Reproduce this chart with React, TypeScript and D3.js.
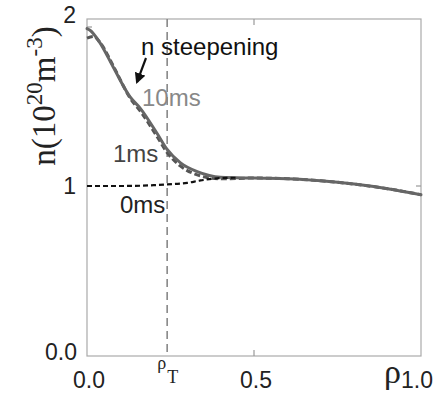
import React, { useEffect, useRef } from 'react';
import * as d3 from 'd3';

// radial position rho (0..1)
const rho10 = [0, 0.009, 0.039, 0.078, 0.129, 0.159, 0.21, 0.24, 0.28, 0.33, 0.4, 0.5, 0.6, 0.7, 0.8, 0.9, 1.0];
const n10ms = [1.99, 1.98, 1.9, 1.75, 1.56, 1.49, 1.33, 1.23, 1.145, 1.09, 1.055, 1.05, 1.046, 1.033, 1.012, 0.983, 0.945];

const rho1 = [0, 0.02, 0.04, 0.08, 0.13, 0.16, 0.21, 0.24, 0.28, 0.33, 0.4, 0.5, 0.6, 0.7, 0.8, 0.9, 1.0];
const n1ms = [1.93, 1.94, 1.9, 1.75, 1.55, 1.47, 1.31, 1.21, 1.125, 1.07, 1.045, 1.05, 1.046, 1.033, 1.012, 0.983, 0.945];

const rho0 = [0, 0.1, 0.2, 0.24, 0.3, 0.34, 0.4, 0.45];
const n0ms = [1.0, 1.0, 1.005, 1.01, 1.02, 1.035, 1.05, 1.052];

const rhoT = 0.24;
const yTicks = [1, 2];
const xTicks = [0.0, 0.5];

function App() {
  const ref = useRef<SVGSVGElement>(null);

  useEffect(() => {
    const svg = d3.select(ref.current);
    svg.selectAll('*').remove();

    const x = d3.scaleLinear().domain([0, 1]).range([87, 421]);
    const y = d3.scaleLinear().domain([1, 2]).range([186, 27]);
    const yMin = y.invert(356);
    const yMax = y.invert(19);

    const axisColor = '#aaa';
    const sans = '"Liberation Sans", Arial, sans-serif';
    const serif = '"Liberation Serif", "Times New Roman", serif';

    // frame
    svg.append('rect')
      .attr('x', x(0)).attr('y', y(yMax))
      .attr('width', x(1) - x(0)).attr('height', y(yMin) - y(yMax))
      .attr('fill', 'none').attr('stroke', axisColor).attr('stroke-width', 1.2);

    // inward ticks
    yTicks.forEach(v => {
      svg.append('line').attr('x1', x(0)).attr('x2', x(0) + 5).attr('y1', y(v)).attr('y2', y(v))
        .attr('stroke', '#999').attr('stroke-width', 1.2);
    });
    svg.append('line').attr('x1', x(1)).attr('x2', x(1) - 5).attr('y1', y(1)).attr('y2', y(1))
      .attr('stroke', '#999').attr('stroke-width', 1.2);
    svg.append('line').attr('x1', x(0.5)).attr('x2', x(0.5)).attr('y1', y(yMin)).attr('y2', y(yMin) - 6)
      .attr('stroke', '#999').attr('stroke-width', 1.2);
    svg.append('line').attr('x1', x(0.5)).attr('x2', x(0.5)).attr('y1', y(yMax)).attr('y2', y(yMax) + 6)
      .attr('stroke', '#999').attr('stroke-width', 1.2);

    // rho_T marker
    svg.append('line')
      .attr('x1', x(rhoT)).attr('x2', x(rhoT))
      .attr('y1', y(yMax)).attr('y2', y(yMin))
      .attr('stroke', '#888').attr('stroke-width', 1.6)
      .attr('stroke-dasharray', '8,5');

    const line = d3.line<[number, number]>()
      .x(d => x(d[0]))
      .y(d => y(d[1]))
      .curve(d3.curveMonotoneX);

    const toPts = (xs: number[], ys: number[]) => xs.map((v, i) => [v, ys[i]] as [number, number]);

    // 1ms dashed
    svg.append('path')
      .datum(toPts(rho1, n1ms))
      .attr('fill', 'none')
      .attr('stroke', '#555')
      .attr('stroke-width', 3)
      .attr('stroke-dasharray', '6,3')
      .attr('d', line);

    // 10ms solid
    svg.append('path')
      .datum(toPts(rho10, n10ms))
      .attr('fill', 'none')
      .attr('stroke', '#666')
      .attr('stroke-width', 3)
      .attr('stroke-linecap', 'round')
      .attr('d', line);

    // 0ms dashed black
    svg.append('path')
      .datum(toPts(rho0, n0ms))
      .attr('fill', 'none')
      .attr('stroke', '#111')
      .attr('stroke-width', 2.2)
      .attr('stroke-dasharray', '5,3')
      .attr('d', line);

    // tick labels
    svg.append('text').attr('x', 76).attr('y', 23).attr('text-anchor', 'end')
      .attr('font-family', sans).attr('font-size', 23).attr('fill', '#222').text('2');
    svg.append('text').attr('x', 76).attr('y', y(1) + 8).attr('text-anchor', 'end')
      .attr('font-family', sans).attr('font-size', 23).attr('fill', '#222').text('1');
    svg.append('text').attr('x', 77).attr('y', y(yMin) + 4).attr('text-anchor', 'end')
      .attr('font-family', sans).attr('font-size', 23).attr('fill', '#222').text('0.0');

    xTicks.forEach(v => {
      svg.append('text').attr('x', x(v) + 2).attr('y', 388).attr('text-anchor', 'middle')
        .attr('font-family', sans).attr('font-size', 23).attr('fill', '#222').text(v.toFixed(1));
    });
    svg.append('text').attr('x', 401).attr('y', 388)
      .attr('font-family', sans).attr('font-size', 23).attr('fill', '#222').text('1.0');
    svg.append('text').attr('x', 384).attr('y', 383)
      .attr('font-family', serif).attr('font-size', 34).attr('fill', '#222').text('ρ');

    // rho_T label
    const rt = svg.append('text').attr('x', x(rhoT) - 10).attr('y', 369)
      .attr('font-family', serif).attr('font-size', 18).attr('fill', '#222');
    rt.append('tspan').text('ρ');
    rt.append('tspan').attr('dy', 14).attr('dx', 1).text('T');

    // y label
    const yl = svg.append('text')
      .attr('transform', 'translate(55,96) rotate(-90)')
      .attr('text-anchor', 'middle')
      .attr('font-family', serif).attr('font-size', 33).attr('fill', '#222');
    yl.append('tspan').text('n(10');
    yl.append('tspan').attr('dy', -13).attr('font-size', 23).text('20');
    yl.append('tspan').attr('dy', 13).text('m');
    yl.append('tspan').attr('dy', -13).attr('font-size', 23).text('-3');
    yl.append('tspan').attr('dy', 13).text(')');

    // annotations
    svg.append('text').attr('x', 141).attr('y', 55)
      .attr('font-family', sans).attr('font-size', 24).attr('fill', '#111').text('n steepening');
    svg.append('text').attr('x', 142).attr('y', 106)
      .attr('font-family', sans).attr('font-size', 24).attr('fill', '#888').text('10ms');
    svg.append('text').attr('x', 113).attr('y', 162)
      .attr('font-family', sans).attr('font-size', 24).attr('fill', '#444').text('1ms');
    svg.append('text').attr('x', 120).attr('y', 213)
      .attr('font-family', sans).attr('font-size', 24).attr('fill', '#222').text('0ms');

    // arrow
    svg.append('defs').append('marker')
      .attr('id', 'ah').attr('viewBox', '0 0 10 10').attr('refX', 8).attr('refY', 5)
      .attr('markerWidth', 5).attr('markerHeight', 5).attr('orient', 'auto')
      .append('path').attr('d', 'M0,0 L10,5 L0,10 z').attr('fill', '#111');
    svg.append('line')
      .attr('x1', 146).attr('y1', 58).attr('x2', 137).attr('y2', 82)
      .attr('stroke', '#111').attr('stroke-width', 2.2)
      .attr('marker-end', 'url(#ah)');
  }, []);

  return (
    <svg ref={ref} width={447} height={398}
      style={{ position: 'absolute', left: 0, top: 0, background: '#fff' }} />
  );
}

export default App;
